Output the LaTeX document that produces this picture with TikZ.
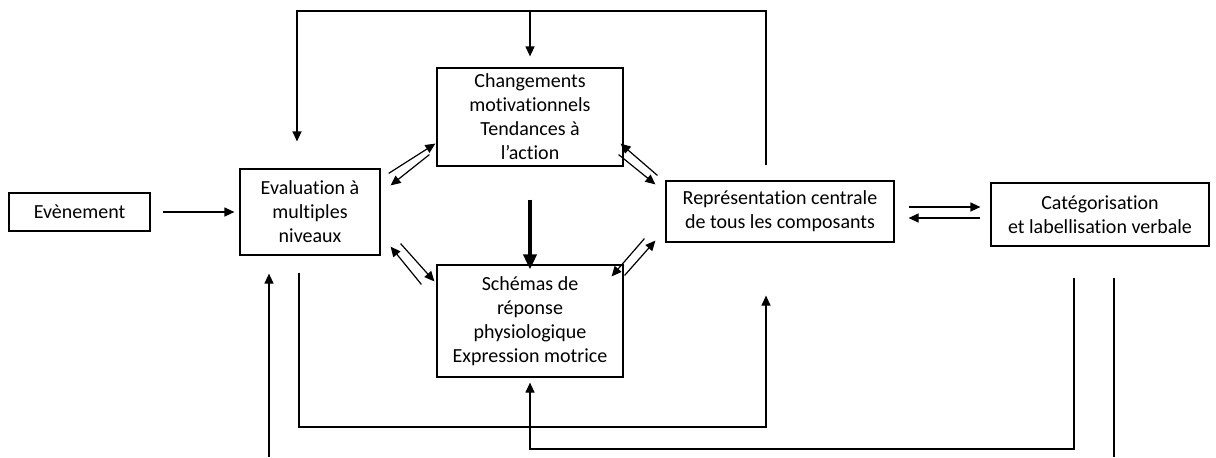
\documentclass[tikz,border=0pt]{standalone}
\usepackage{fontspec}
\setmainfont{Carlito}[Ligatures={NoCommon}]
\usetikzlibrary{arrows.meta}

\begin{document}
\begin{tikzpicture}[x=0.5pt,y=-0.5pt,
            box/.style={draw,line width=0.6pt,align=center,inner sep=0pt,font=\fontsize{10}{12}\selectfont},
            arr/.style={line width=0.6pt,-{Triangle[length=5pt,width=4.5pt]}},
            big/.style={line width=2pt,-{Triangle[length=7.5pt,width=6.5pt]}}]
            \useasboundingbox (0,0) rectangle (1216,457);
            \node[box,minimum width=70.5pt,minimum height=19pt] (evt) at (79.5,212) {Evènement};
            \node[box,minimum width=70pt,minimum height=43pt] (eval) at (310,212) {Evaluation à\\multiples\\niveaux};
            \node[box,minimum width=93pt,minimum height=49pt] (chg) at (530,117) {Changements\\motivationnels\\Tendances à\\l’action};
            \node[box,minimum width=93pt,minimum height=56pt] (sch) at (530,321) {Schémas de\\réponse\\physiologique\\Expression motrice};
            \node[box,minimum width=114pt,minimum height=30.5pt] (rep) at (780,211.5) {Représentation centrale\\de tous les composants};
            \node[box,minimum width=109pt,minimum height=31.5pt] (cat) at (1100,214.5) {Catégorisation\\et labellisation verbale};
            \coordinate (t1) at (297,11);
            \coordinate (b1) at (766,427);
            \coordinate (b2) at (530,449);
            \coordinate (in1) at (269,457);
            \coordinate (out1) at (1114,457);
            \draw[arr,shorten <=6pt,shorten >=2.5pt] (evt) -- (eval);
            \draw[arr] ([shift={(8,5)}]eval.north east) -- ([shift={(-1,-23)}]chg.south west);
            \draw[arr] ([shift={(-7,-12)}]chg.south west) -- ([shift={(10,17)}]eval.north east);
            \draw[arr] ([shift={(-8,-5)}]rep.north west) -- ([shift={(-3,-23)}]chg.south east);
            \draw[arr] ([shift={(-5,-12)}]chg.south east) -- ([shift={(-10,4)}]rep.north west);
            \draw[arr] ([shift={(20,-12)}]eval.south east) -- ([shift={(-2,17)}]sch.north west);
            \draw[arr] ([shift={(-15,20)}]sch.north west) -- ([shift={(10,-9)}]eval.south east);
            \draw[arr] ([shift={(1,11)}]sch.north east) -- ([shift={(-10,-2)}]rep.south west);
            \draw[arr] ([shift={(-21,-4)}]rep.south west) -- ([shift={(-12,12)}]sch.north east);
            \draw[big,shorten <=16.5pt,shorten >=-2.5pt] (chg.south) -- (sch.north);
            \draw[arr] ([shift={(14,-4.5)}]rep.east) -- ([shift={(-10,-7.5)}]cat.west);
            \draw[arr] ([shift={(-10,3.5)}]cat.west) -- ([shift={(14,6.5)}]rep.east);
            \draw[arr] ([shift={(-14,-15)}]rep.north) |- (t1) -- ([shift={(-13,-27)}]eval.north);
            \draw[arr] (chg.north |- t1) -- ([shift={(0,-11)}]chg.north);
            \draw[arr] ([shift={(-11,17)}]eval.south) |- (b1) -- ([shift={(-14,53)}]rep.south);
            \draw[arr] ([shift={(-26,31)}]cat.south) |- (b2) -- ([shift={(0,5)}]sch.south);
            \draw[arr] (in1) -- ([shift={(-41,18)}]eval.south);
            \draw[line width=0.6pt] ([shift={(14,31)}]cat.south) -- (out1);
        \end{tikzpicture}
\end{document}
